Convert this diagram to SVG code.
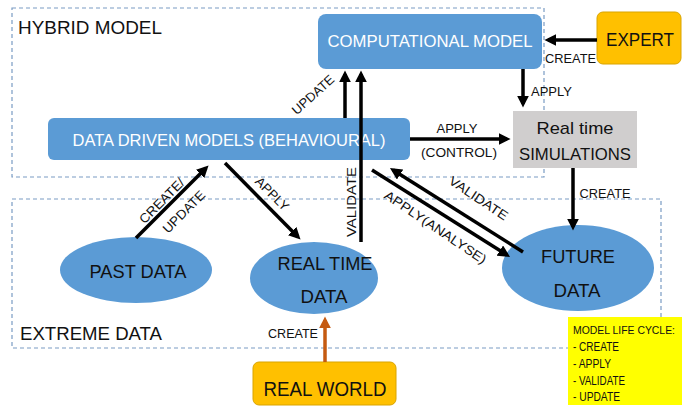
<svg xmlns="http://www.w3.org/2000/svg" width="683" height="406" viewBox="0 0 683 406">
<style>
text{font-family:"Liberation Sans",Arial,sans-serif;fill:#111}
.w{fill:#fff}
.lbl{font-size:13px}
.big{font-size:17px}
.dash{fill:none;stroke:#7A9CC4;stroke-width:1.2;stroke-dasharray:4 3}
.blue{fill:#5B9BD5}
.ar{fill:none;stroke:#000;stroke-width:3.5}
.leg{font-size:12px}
</style>
<defs>
<marker id="ah" viewBox="0 0 10 10" refX="7" refY="5" markerWidth="12" markerHeight="12" markerUnits="userSpaceOnUse" orient="auto">
<path d="M0,0 L10,5 L0,10 z" fill="#000"/>
</marker>
<marker id="aho" viewBox="0 0 10 10" refX="7" refY="5" markerWidth="12" markerHeight="12" markerUnits="userSpaceOnUse" orient="auto">
<path d="M0,0 L10,5 L0,10 z" fill="#C55A11"/>
</marker>
</defs>

<g id="hybrid-model">
<rect class="dash" x="12" y="8" width="532" height="169"/>
<text x="18" y="34" font-size="19" textLength="144" lengthAdjust="spacingAndGlyphs">HYBRID MODEL</text>
</g>
<g id="extreme-data">
<rect class="dash" x="12" y="199" width="649" height="149"/>
<text x="20" y="340" font-size="19" textLength="142" lengthAdjust="spacingAndGlyphs">EXTREME DATA</text>
</g>

<g id="computational-model">
<rect class="blue" x="318" y="14" width="224" height="55" rx="8"/>
<text class="w big" x="430" y="47" text-anchor="middle" textLength="205" lengthAdjust="spacingAndGlyphs">COMPUTATIONAL MODEL</text>
</g>
<g id="expert">
<rect x="597" y="12" width="84" height="52" rx="6" fill="#FFC000" stroke="#D9A400" stroke-width="1"/>
<text x="640" y="46" font-size="18" text-anchor="middle" textLength="68" lengthAdjust="spacingAndGlyphs">EXPERT</text>
</g>
<g id="data-driven-models">
<rect class="blue" x="48" y="118" width="362" height="42" rx="6"/>
<text class="w big" x="229" y="146" text-anchor="middle" textLength="313" lengthAdjust="spacingAndGlyphs">DATA DRIVEN MODELS (BEHAVIOURAL)</text>
</g>
<g id="real-time-simulations">
<rect x="513" y="111" width="124" height="57" fill="#D0CECE"/>
<text x="575" y="134" font-size="17" text-anchor="middle" textLength="77" lengthAdjust="spacingAndGlyphs">Real time</text>
<text x="575" y="160" font-size="17" text-anchor="middle" textLength="112" lengthAdjust="spacingAndGlyphs">SIMULATIONS</text>
</g>
<g id="past-data">
<ellipse class="blue" cx="136" cy="270" rx="76" ry="33"/>
<text x="138" y="278" font-size="19" text-anchor="middle" textLength="97" lengthAdjust="spacingAndGlyphs">PAST DATA</text>
</g>
<g id="real-time-data">
<ellipse class="blue" cx="314" cy="278" rx="64" ry="36"/>
<text x="325" y="270" font-size="19" text-anchor="middle" textLength="95" lengthAdjust="spacingAndGlyphs">REAL TIME</text>
<text x="324" y="303" font-size="19" text-anchor="middle" textLength="47" lengthAdjust="spacingAndGlyphs">DATA</text>
</g>
<g id="future-data">
<ellipse class="blue" cx="578" cy="268" rx="76" ry="43"/>
<text x="578" y="263" font-size="19" text-anchor="middle" textLength="74" lengthAdjust="spacingAndGlyphs">FUTURE</text>
<text x="577" y="297" font-size="19" text-anchor="middle" textLength="47" lengthAdjust="spacingAndGlyphs">DATA</text>
</g>
<g id="real-world">
<rect x="253" y="362" width="143" height="43" rx="6" fill="#FFC000" stroke="#D9A400" stroke-width="1"/>
<text x="325" y="396" font-size="20" text-anchor="middle" textLength="123" lengthAdjust="spacingAndGlyphs">REAL WORLD</text>
</g>
<g id="legend">
<rect x="568" y="317" width="114" height="88" fill="#FFFF00"/>
<text x="573" y="334" font-size="11" textLength="102" lengthAdjust="spacingAndGlyphs">MODEL LIFE CYCLE:</text>
<text class="leg" x="573" y="351" textLength="46" lengthAdjust="spacingAndGlyphs">- CREATE</text>
<text class="leg" x="573" y="368" textLength="38" lengthAdjust="spacingAndGlyphs">- APPLY</text>
<text class="leg" x="573" y="385" textLength="52" lengthAdjust="spacingAndGlyphs">- VALIDATE</text>
<text class="leg" x="573" y="401" textLength="47" lengthAdjust="spacingAndGlyphs">- UPDATE</text>
</g>

<g id="connectors">
<line class="ar" x1="597" y1="40" x2="548" y2="40" marker-end="url(#ah)"/>
<line class="ar" x1="523" y1="69" x2="523" y2="104" marker-end="url(#ah)"/>
<line class="ar" x1="410" y1="139" x2="507" y2="139" marker-end="url(#ah)"/>
<line class="ar" x1="345" y1="118" x2="345" y2="74" marker-end="url(#ah)"/>
<line class="ar" x1="361" y1="242" x2="361" y2="74" marker-end="url(#ah)"/>
<line class="ar" x1="136" y1="238" x2="206" y2="168" marker-end="url(#ah)"/>
<line class="ar" x1="225" y1="163" x2="298" y2="237" marker-end="url(#ah)"/>
<line class="ar" x1="372" y1="170" x2="507" y2="255" marker-end="url(#ah)"/>
<line class="ar" x1="523" y1="252" x2="393" y2="170" marker-end="url(#ah)"/>
<line class="ar" x1="573" y1="168" x2="573" y2="227" marker-end="url(#ah)"/>
<line x1="325" y1="362" x2="325" y2="320" stroke="#C55A11" stroke-width="3.5" marker-end="url(#aho)"/>

<text class="lbl" x="545" y="63" textLength="51" lengthAdjust="spacingAndGlyphs">CREATE</text>
<text class="lbl" x="531" y="96" textLength="41" lengthAdjust="spacingAndGlyphs">APPLY</text>
<text class="lbl" x="457" y="133" text-anchor="middle" textLength="41" lengthAdjust="spacingAndGlyphs">APPLY</text>
<text class="lbl" x="459" y="157" text-anchor="middle" textLength="76" lengthAdjust="spacingAndGlyphs">(CONTROL)</text>
<text class="lbl" x="605" y="198" text-anchor="middle" textLength="51" lengthAdjust="spacingAndGlyphs">CREATE</text>
<text class="lbl" x="293" y="338" text-anchor="middle" textLength="50" lengthAdjust="spacingAndGlyphs">CREATE</text>
<text class="lbl" transform="translate(316,98) rotate(-42)" text-anchor="middle" textLength="52" lengthAdjust="spacingAndGlyphs">UPDATE</text>
<text class="lbl" transform="translate(356,202) rotate(-90)" text-anchor="middle" textLength="70" lengthAdjust="spacingAndGlyphs">VALIDATE</text>
<text class="lbl" transform="translate(165,204) rotate(-45)" text-anchor="middle" textLength="58" lengthAdjust="spacingAndGlyphs">CREATE/</text>
<text class="lbl" transform="translate(187,215) rotate(-45)" text-anchor="middle" textLength="54" lengthAdjust="spacingAndGlyphs">UPDATE</text>
<text class="lbl" transform="translate(269,197) rotate(45)" text-anchor="middle" textLength="42" lengthAdjust="spacingAndGlyphs">APPLY</text>
<text class="lbl" transform="translate(433,231) rotate(34)" text-anchor="middle" textLength="120" lengthAdjust="spacingAndGlyphs">APPLY(ANALYSE)</text>
<text class="lbl" transform="translate(476,202) rotate(34)" text-anchor="middle" textLength="68" lengthAdjust="spacingAndGlyphs">VALIDATE</text>
</g>
</svg>
